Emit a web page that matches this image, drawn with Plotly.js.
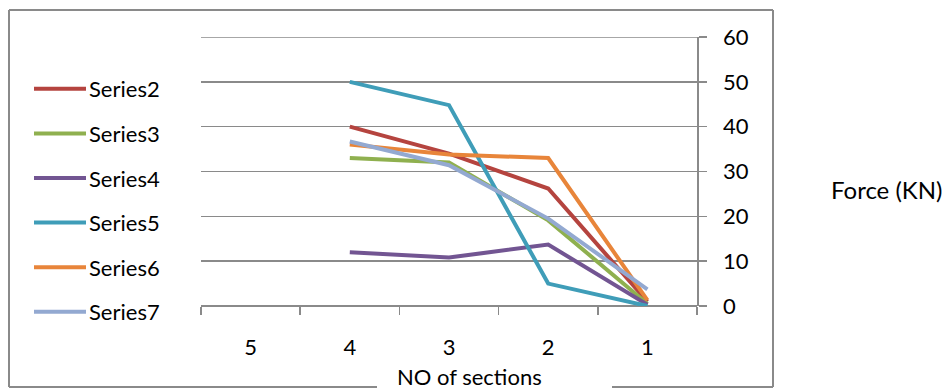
<!DOCTYPE html>
<html>
<head>
<meta charset="utf-8">
<script src="https://cdn.plot.ly/plotly-3.0.1.min.js"></script>
<style>html,body{margin:0;padding:0;background:#fff;}#chart{width:948px;height:389px;}</style>
</head>
<body>
<div id="chart"></div>
<script>
var categories = ['5', '4', '3', '2', '1'];
var xPoints = ['4', '3', '2', '1'];
var series2 = [40.0, 34.0, 26.2, 1.0];
var series3 = [33.0, 32.0, 19.1, 0.5];
var series4 = [12.0, 10.8, 13.7, 0.3];
var series5 = [50.0, 44.8, 5.0, 0.0];
var series6 = [36.0, 33.8, 33.0, 1.3];
var series7 = [36.7, 31.4, 19.5, 3.7];
var seriesNames = ['Series2', 'Series3', 'Series4', 'Series5', 'Series6', 'Series7'];
var seriesColors = ['#B5443F', '#8FB04F', '#725592', '#3F9DB8', '#E8853A', '#93A9D1'];
var yTicks = [0, 10, 20, 30, 40, 50, 60];

var allSeries = [series2, series3, series4, series5, series6, series7];
var FONT = 'Lato, "Noto Sans", sans-serif';
var FS = 22;
var traces = allSeries.map(function (vals, i) {
  return {
    type: 'scatter', mode: 'lines',
    x: xPoints, y: vals,
    name: seriesNames[i],
    legendgroup: 'g' + i,
    line: {color: seriesColors[i], width: 4},
    hoverinfo: 'skip'
  };
});

var W = 496, H = 269, L = 201, T = 37;
function px(x) { return (x - L) / W; }
function py(y) { return (T + H - y) / H; }
var gray = '#8A8A8A';
var shapes = [
  {type: 'line', xref: 'paper', yref: 'y', x0: 0, x1: 1, y0: yTicks[yTicks.length - 1], y1: yTicks[yTicks.length - 1], line: {color: gray, width: 1.5}, layer: 'below'},
  {type: 'line', xref: 'paper', yref: 'paper', x0: px(9), x1: px(773), y0: py(10), y1: py(10), line: {color: gray, width: 2}},
  {type: 'line', xref: 'paper', yref: 'paper', x0: px(9), x1: px(9), y0: py(10), y1: py(387), line: {color: gray, width: 2}},
  {type: 'line', xref: 'paper', yref: 'paper', x0: px(773), x1: px(773), y0: py(10), y1: py(387), line: {color: gray, width: 2}},
  {type: 'line', xref: 'paper', yref: 'paper', x0: px(9), x1: px(377), y0: py(387), y1: py(387), line: {color: gray, width: 2}},
  {type: 'line', xref: 'paper', yref: 'paper', x0: px(612), x1: px(773), y0: py(387), y1: py(387), line: {color: gray, width: 2}}
];

var layout = {
  width: 948, height: 389,
  margin: {l: L, r: 948 - L - W, t: T, b: 389 - T - H},
  paper_bgcolor: '#fff', plot_bgcolor: '#fff',
  font: {family: FONT, size: FS, color: '#000'},
  showlegend: true,
  legend: {
    x: px(18), y: py(68), xanchor: 'left', yanchor: 'top',
    tracegroupgap: 13, traceorder: 'grouped', itemwidth: 61,
    font: {family: FONT, size: FS, color: '#000'},
    bgcolor: 'rgba(0,0,0,0)'
  },
  xaxis: {
    type: 'category', categoryorder: 'array', categoryarray: categories,
    range: [-0.5, 4.5], fixedrange: true,
    showgrid: false, zeroline: false,
    showline: false,
    ticks: 'outside', ticklen: 8, tickcolor: gray, tickwidth: 1.5,
    tickson: 'boundaries',
    ticklabelstandoff: 26,
    tickfont: {family: FONT, size: FS, color: '#000'}
  },
  yaxis: {
    side: 'right', range: [0, 60], tickvals: yTicks, ticktext: yTicks.map(String),
    showgrid: true, gridcolor: gray, gridwidth: 1.5,
    zeroline: true, zerolinecolor: gray, zerolinewidth: 1.5,
    showline: true, linecolor: gray, linewidth: 1.5,
    ticks: 'outside', ticklen: 8, tickcolor: gray, tickwidth: 1.5,
    ticklabelstandoff: 12,
    tickfont: {family: FONT, size: FS, color: '#000'},
    fixedrange: true
  },
  shapes: shapes,
  annotations: [
    {text: 'Force (KN)', xref: 'paper', yref: 'paper', x: px(886), y: py(190), xanchor: 'center', yanchor: 'middle', showarrow: false, font: {family: FONT, size: 24, color: '#000'}},
    {text: 'NO of sections', xref: 'paper', yref: 'paper', x: px(469), y: py(376), xanchor: 'center', yanchor: 'middle', showarrow: false, font: {family: FONT, size: FS, color: '#000'}}
  ]
};

Plotly.newPlot('chart', traces, layout, {staticPlot: true, displayModeBar: false}).then(function () {
  document.querySelectorAll('.legendlines path').forEach(function (p) {
    p.setAttribute('d', 'M16,0h52');
  });
});
</script>
</body>
</html>
